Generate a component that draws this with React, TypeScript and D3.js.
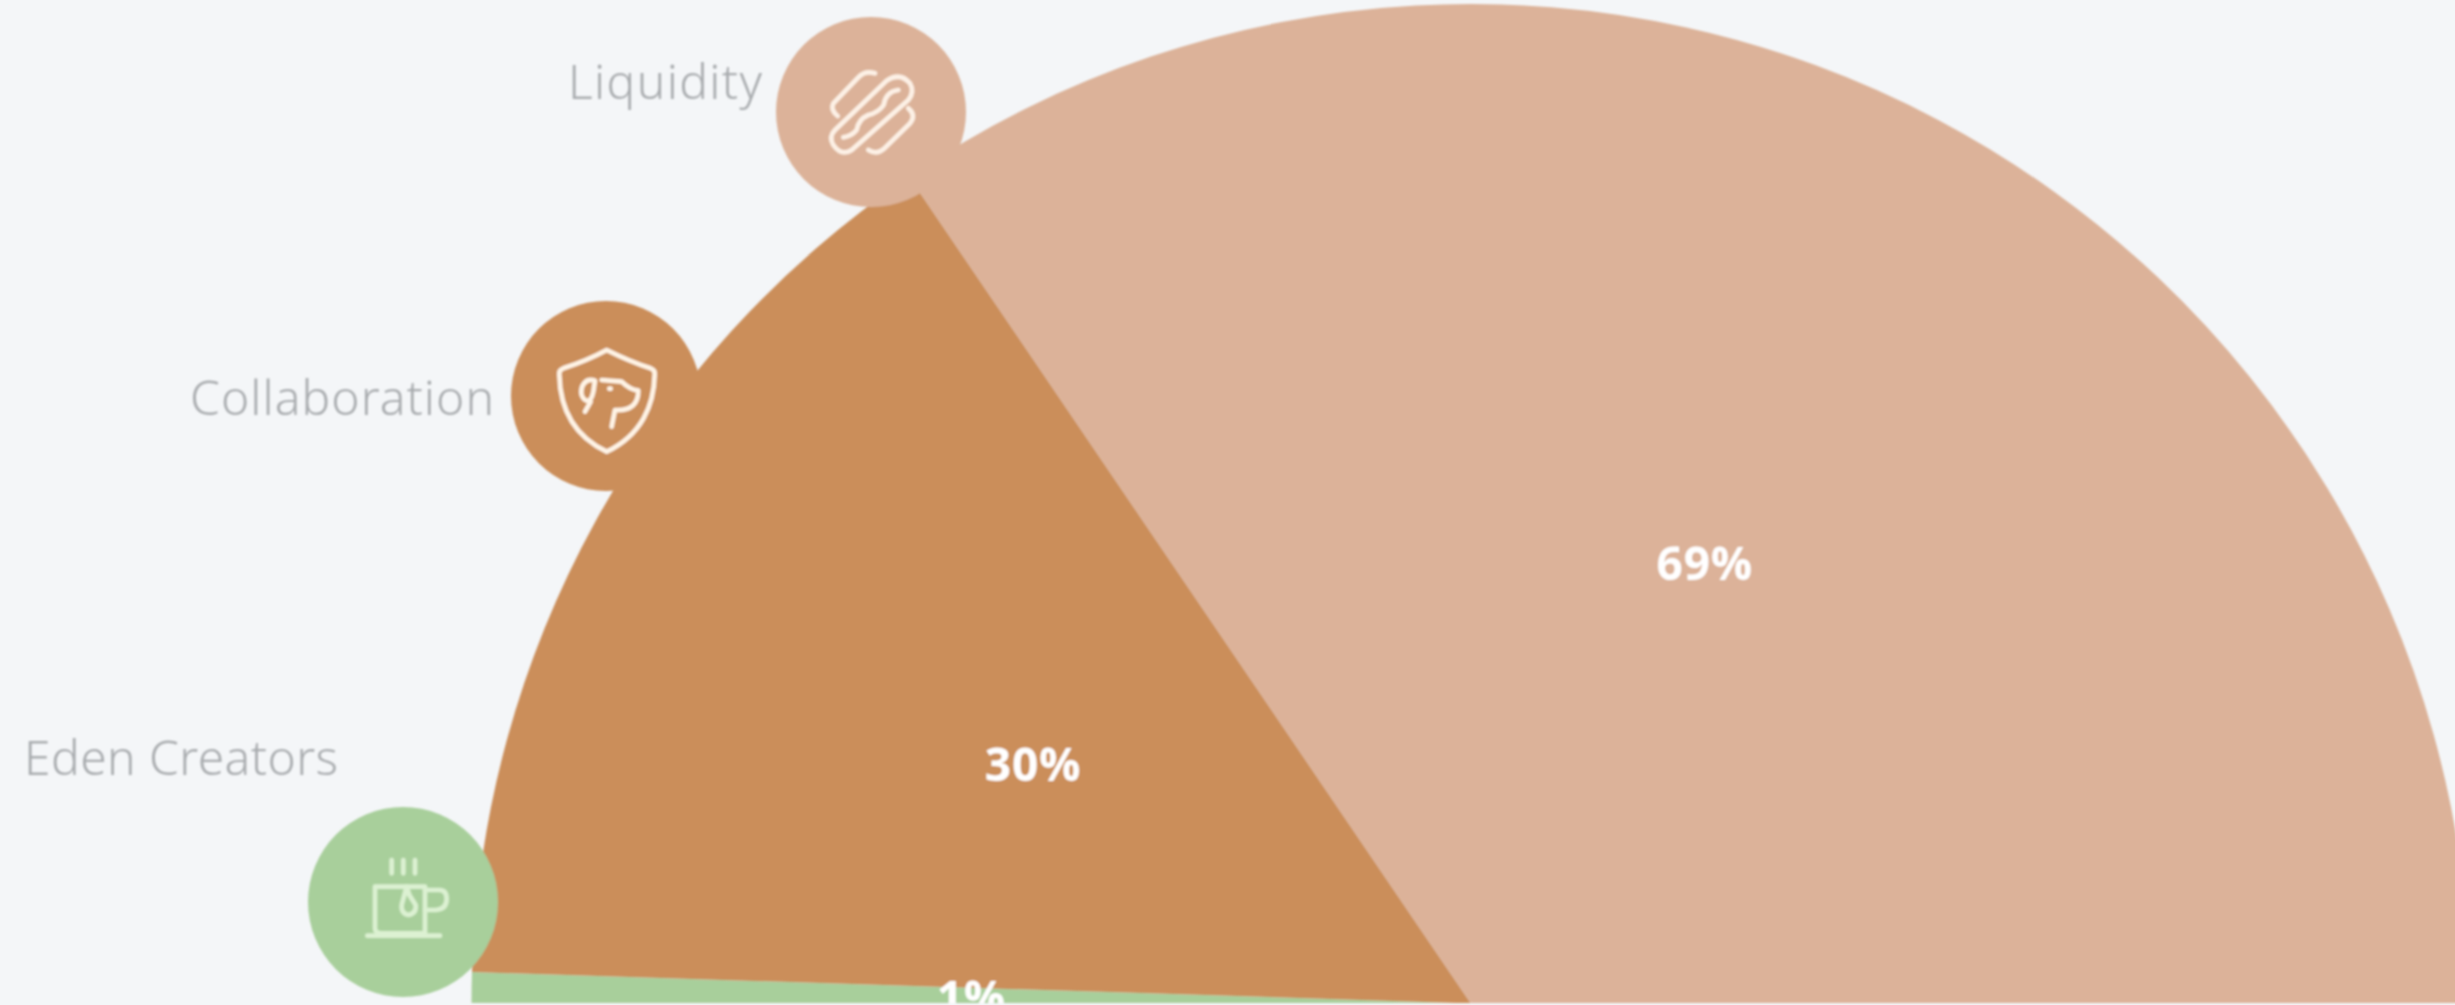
import React from "react";
import * as d3 from "d3";

const categories = ["Eden Creators", "Collaboration", "Liquidity"];
const shares = [1, 30, 69];
const sliceColors = ["#a8cf9b", "#cb8e5a", "#dcb299"];
const iconColors = ["#dcf1d2", "#fff4e6", "#fdf1e6"];

const W = 2455;
const H = 1005;
const CX = 1471;
const CY = 1003.5;
const R = 999.5;
const BUBBLE_R = 95;
const bubbleCenters: [number, number][] = [[403, 902], [606, 396], [871, 112]];
const labelAnchors: [number, number][] = [[338, 775], [494, 415], [762, 99]];
const labelWidths = [314, 304, 194];

const pie = d3.pie<number>().sort(null).startAngle(-Math.PI / 2).endAngle(Math.PI / 2);
const arc = d3.arc<d3.PieArcDatum<number>>().innerRadius(0).outerRadius(R);
const arcs = pie(shares);

function Icon({ index, color }: { index: number; color: string }) {
  const common = { fill: "none", stroke: color, strokeWidth: 14, strokeLinecap: "round" as const, strokeLinejoin: "round" as const };
  if (index === 0) {
    return (
      <g transform="translate(350,845) scale(0.3333)" {...common}>
        <path d="M125,45V85M160,45V85M195,45V85" />
        <path d="M225,125H75V250Q75,265 95,265H225V125" />
        <path d="M225,135H268Q290,135 290,162Q290,192 258,195H225" />
        <path d="M52,272H270" />
        <path d="M170,125L178,150L197,180Q200,205 175,210Q152,205 155,180Z" />
      </g>
    );
  }
  if (index === 1) {
    return (
      <g transform="translate(550,340) scale(0.3333)" {...common}>
        <path d="M170,30C130,52 80,72 40,85Q26,90 28,105C30,195 65,285 170,335C275,285 312,195 314,105Q316,90 302,85C262,72 210,50 170,30Z" />
        <path d="M135,122C105,112 90,140 95,165C103,185 122,195 130,155Z" />
        <path d="M122,185L105,215" />
        <path d="M155,120L215,125C235,145 250,150 265,152C265,190 245,213 195,210L185,260" />
        <path d="M178,146L182,146" />
      </g>
    );
  }
  return (
    <g transform="translate(815,60) scale(0.3333)" {...common}>
      <path d="M215,62Q255,35 285,70Q300,95 280,120L110,270Q80,290 55,255Q40,230 60,210Z" />
      <path d="M250,90Q212,95 206,135Q190,158 160,165Q130,178 125,210Q110,228 85,232" />
      <path d="M180,40Q150,30 130,52L55,130Q45,150 68,168" />
      <path d="M280,145Q305,165 285,190L205,268Q185,285 160,270" />
    </g>
  );
}

export default function App() {
  return (
    <svg
      width={W}
      height={H}
      viewBox={`0 0 ${W} ${H}`}
      style={{ position: "absolute", left: 0, top: 0, display: "block", background: "#f4f6f8" }}
    >
      <defs>
        <clipPath id="plot-clip">
          <rect x={-50} y={-50} width={W + 100} height={1053} />
        </clipPath>
        <filter id="soft" filterUnits="userSpaceOnUse" x={-40} y={-40} width={W + 80} height={H + 80}>
          <feGaussianBlur stdDeviation="1.2" />
        </filter>
      </defs>
      <g filter="url(#soft)">
        <g clipPath="url(#plot-clip)">
          <g transform={`translate(${CX},${CY})`}>
            {arcs.map((a, i) => (
              <path key={categories[i]} d={arc(a) ?? ""} fill={sliceColors[i]} />
            ))}
          </g>
          {categories.map((c, i) => (
            <circle key={c} cx={bubbleCenters[i][0]} cy={bubbleCenters[i][1]} r={BUBBLE_R} fill={sliceColors[i]} />
          ))}
          {categories.map((c, i) => (
            <Icon key={c} index={i} color={iconColors[i]} />
          ))}
          <g transform={`translate(${CX},${CY})`}>
            {arcs.map((a, i) => {
              const [x, y] = arc.centroid(a);
              return (
                <text
                  key={categories[i]}
                  x={x}
                  y={y}
                  textAnchor="middle"
                  dominantBaseline="central"
                  fontFamily="'Open Sans', sans-serif"
                  fontWeight={700}
                  fontSize={46}
                  letterSpacing={0.8}
                  fill="#ffffff"
                >
                  {shares[i]}%
                </text>
              );
            })}
          </g>
        </g>
        {categories.map((c, i) => (
          <text
            key={c}
            x={labelAnchors[i][0] - labelWidths[i]}
            y={labelAnchors[i][1]}
            textLength={labelWidths[i]}
            lengthAdjust="spacing"
            fontFamily="'Noto Sans', sans-serif"
            fontWeight={300}
            fontSize={48}
            fill="#a9acaf"
          >
            {c}
          </text>
        ))}
      </g>
    </svg>
  );
}
